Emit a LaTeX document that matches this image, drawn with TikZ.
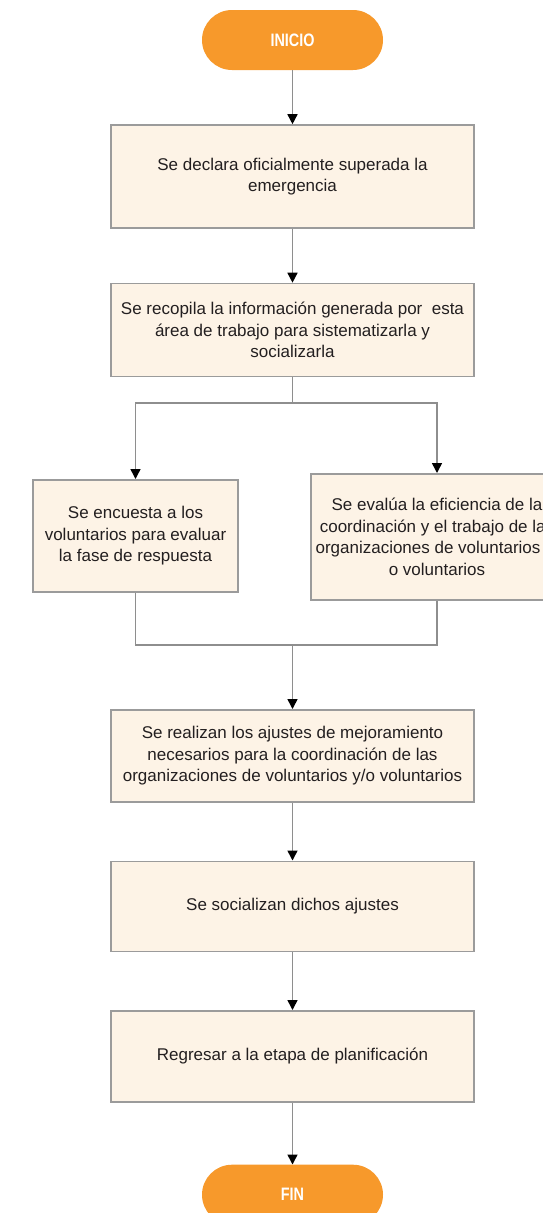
\documentclass[tikz,border=0pt]{standalone}
\usepackage{fontspec}
\setmainfont{Liberation Sans}
\newfontfamily\estrecha[FakeStretch=0.8]{Liberation Sans}
\usetikzlibrary{arrows.meta,positioning}
\definecolor{naranja}{HTML}{F7992B}
\definecolor{crema}{HTML}{FDF3E6}
\definecolor{borde}{HTML}{9B9B9B}
\definecolor{linea}{HTML}{8E8E8E}
\definecolor{texto}{HTML}{231F20}

\begin{document}
\begin{tikzpicture}[
  x=1pt,y=1pt,
  blk/.style={draw=borde,line width=1.5pt,fill=crema,minimum width=363pt,inner sep=2pt,align=center,
    font=\fontsize{17}{21.5}\selectfont,text=texto},
  term/.style={fill=naranja,rounded corners=30pt,minimum width=181pt,minimum height=60pt,
    font=\estrecha\fontsize{18}{20}\selectfont\bfseries,text=white},
  lin/.style={draw=linea,line width=1.5pt},
  arr/.style={lin,-{Triangle[length=10pt,width=10pt,color=black]}},
  node distance=54pt]
\useasboundingbox (0,0) rectangle (543,-1213);
\node[term] (ini) at (292.5,-40) {INICIO};
\node[blk,below=of ini,minimum height=103pt] (decl) {Se declara oficialmente superada la\\emergencia};
\node[blk,below=of decl,minimum height=93pt] (recop) {Se recopila la información generada por\ \ esta\\área de trabajo para sistematizarla y\\socializarla};
\node[blk,anchor=north,minimum width=205pt,minimum height=112pt] (encu) at (135.5,-479) {Se encuesta a los\\voluntarios para evaluar\\la fase de respuesta};
\node[blk,anchor=north,minimum width=252pt,minimum height=126pt] (eval) at (437,-473) {Se evalúa la eficiencia de la\\coordinación y el trabajo de las\\organizaciones de voluntarios y/\\o voluntarios};
\node[blk,anchor=north,minimum height=92pt] (ajus) at (292.5,-709) {Se realizan los ajustes de mejoramiento\\necesarios para la coordinación de las\\organizaciones de voluntarios y/o voluntarios};
\node[blk,below=58pt of ajus,minimum height=90pt] (soc) {Se socializan dichos ajustes};
\node[blk,below=58pt of soc,minimum height=91pt] (regr) {Regresar a la etapa de planificación};
\node[term,below=62pt of regr] (fin) {FIN};
\coordinate (split) at (292.5,-403);
\coordinate (merge) at (292.5,-645);
\draw[arr] (ini) -- (decl);
\draw[arr] (decl) -- (recop);
\draw[lin] (recop) -- (split);
\draw[arr] (split) -| (encu.north);
\draw[arr] (split) -| (eval.north);
\draw[lin] (encu.south) |- (merge);
\draw[lin] (eval.south) |- (merge);
\draw[arr] (merge) -- (ajus);
\draw[arr] (ajus) -- (soc);
\draw[arr] (soc) -- (regr);
\draw[arr] (regr) -- (fin);
\end{tikzpicture}
\end{document}
